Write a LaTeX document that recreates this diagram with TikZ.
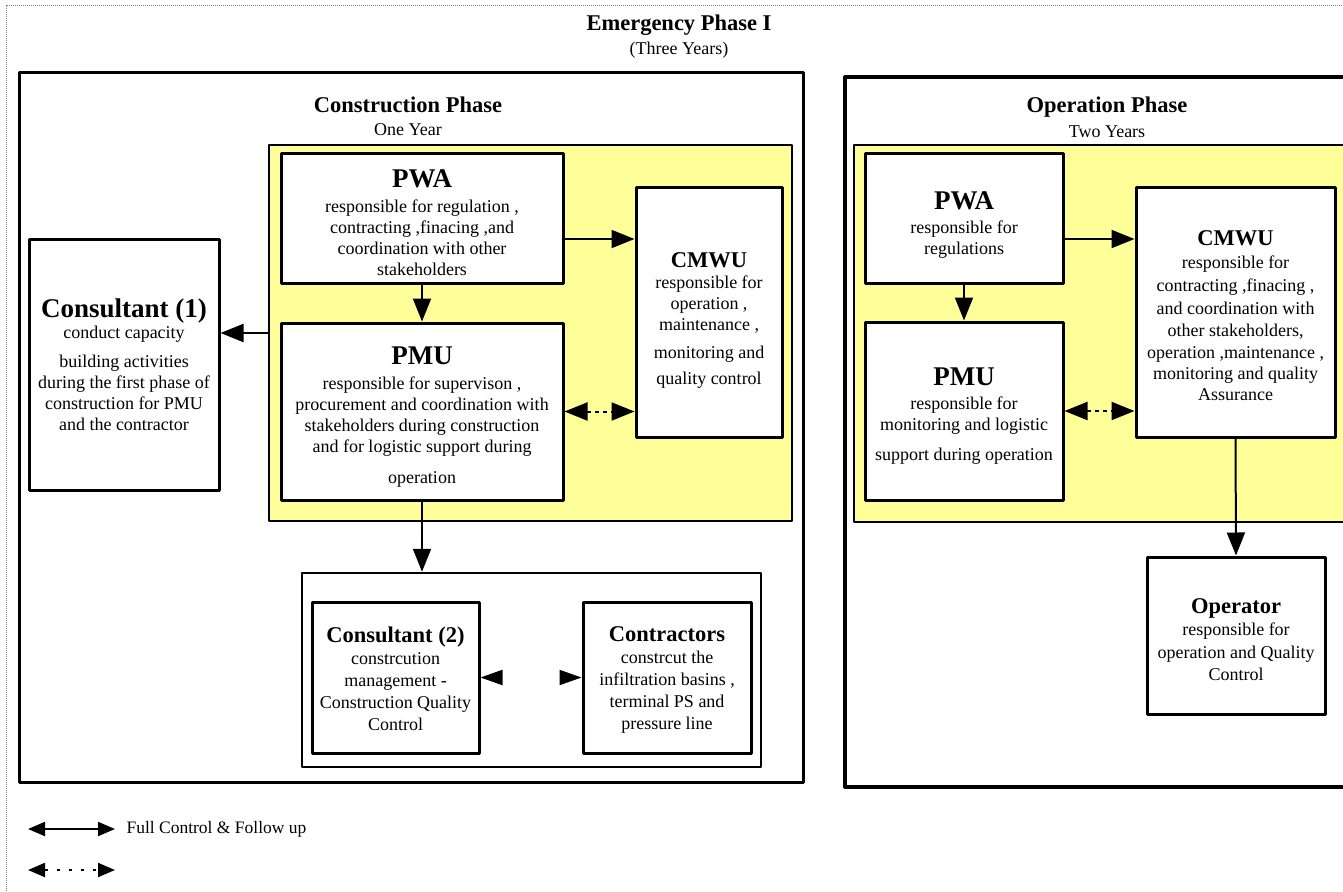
\documentclass[tikz,border=0pt]{standalone}
\usepackage{fontspec}
\setmainfont{Liberation Serif}
\usetikzlibrary{arrows.meta}
\definecolor{paleyellow}{RGB}{255,255,153}
\newcommand{\bigname}[2][0pt]{{\fontsize{27}{29}\selectfont\bfseries\rule{0pt}{#1}#2}}
\newcommand{\midname}[2][0pt]{{\fontsize{22.5}{25}\selectfont\bfseries\rule{0pt}{#1}#2}}
\begin{document}
\begin{tikzpicture}[x=1pt,y=-1pt,line join=round,
	>={Triangle[length=23pt,width=18pt]},
	body/.style={font=\fontsize{18}{21}\selectfont},
	box/.style={draw,line width=3pt,fill=white,inner sep=0pt,align=center,body},
	frame/.style={draw,line width=3pt,inner sep=0pt},
	yel/.style={draw,line width=2.5pt,fill=paleyellow,inner sep=0pt},
	con/.style={line width=2pt},
	ghost/.style={line width=2pt,white,{Triangle[length=22pt,width=15pt,color=black]}-{Triangle[length=22pt,width=15pt,color=black]}},
	small/.style={{Triangle[length=17pt,width=14pt]}-{Triangle[length=17pt,width=14pt]},line width=2pt}]
	\clip (0,0) rectangle (1343,891);
	%Outer border
	\path (6,891) coordinate (BL) (6,6) coordinate (TL) (1343,6) coordinate (TR);
	\draw[densely dotted,line width=1pt,gray] (BL)--(TL)--(TR);
	\node[font=\fontsize{22.5}{25}\selectfont\bfseries] (emg) at (679,25) {Emergency Phase I};
	\node[body] (emgy) at (679,50) {(Three Years)};
	%Construction phase
	\node[frame,minimum width=784,minimum height=710] (cPh) at (411,427) {};
	\node[font=\fontsize{22.5}{25}\selectfont\bfseries] (cTitle) at (408,105) {Construction Phase};
	\node[body] (cYear) at (408,130) {One Year};
	\node[yel,minimum width=523,minimum height=376] (cYel) at (530.5,333) {};
	\node[box,minimum width=282,minimum height=130] (cPWA) at (422,218)
		{\bigname[28pt]{PWA}\\[4pt] responsible for regulation ,\\ contracting ,finacing ,and\\ coordination with  other\\ stakeholders};
	\node[box,minimum width=282,minimum height=177] (cPMU) at (422,411.5)
		{\bigname[28pt]{PMU}\\[4pt] responsible for supervison ,\\ procurement and coordination with\\ stakeholders during construction\\ and for logistic support during\\[10pt] operation};
	\node[box,minimum width=146,minimum height=250] (cCMWU) at (709,312)
		{\midname[31pt]{CMWU}\\ responsible for\\ operation ,\\ maintenance ,\\[7pt] monitoring and\\[5pt] quality control};
	\node[box,minimum width=190,minimum height=251] (cons1) at (124,364.5)
		{\bigname{Consultant (1)}\\ conduct capacity\\[8pt] building activities\\ during the first phase of\\ construction for PMU\\ and the contractor};
	\node[draw,line width=2.5pt,inner sep=0pt,minimum width=459,minimum height=194] (grp) at (531.5,670) {};
	\node[box,font=\fontsize{18}{22}\selectfont,minimum width=167,minimum height=151] (cons2) at (395.5,677.5)
		{\midname[19pt]{Consultant (2)}\\ constrcution\\ management -\\ Construction Quality\\ Control};
	\node[box,font=\fontsize{18}{22}\selectfont,minimum width=168,minimum height=151] (ctr) at (667,677.5)
		{\midname[19pt]{Contractors}\\ constrcut the\\ infiltration basins ,\\ terminal PS and\\ pressure line};
	\path (cPWA.east)++(0,21) coordinate (cA);
	\draw[con,->] (cA)--(cA -| cCMWU.west);
	\draw[con,->] (cPWA.south)--(cPMU.north);
	\draw[con,<->,dash pattern=on 4pt off 4pt] (cPMU.east)--(cPMU.east -| cCMWU.west);
	\path (cons1.east)++(0,-31.5) coordinate (cB);
	\draw[con,->] (cB -| cYel.west)--(cB);
	\draw[con,->] (cPMU.south)--(cPMU.south |- grp.north);
	\draw[ghost] (cons2.east)--(ctr.west);
	%Operation phase
	\node[frame,line width=4pt,minimum width=515,minimum height=710] (oPh) at (1102.5,432) {};
	\node[font=\fontsize{22.5}{25}\selectfont\bfseries] (oTitle) at (1107,107) {Operation Phase};
	\node[body] (oYear) at (1107,132) {Two Years};
	\node[yel,minimum width=506,minimum height=377] (oYel) at (1107,333.5) {};
	\node[box,minimum width=198,minimum height=130] (oPWA) at (964,218)
		{\bigname[32pt]{PWA}\\[3pt] responsible for\\ regulations};
	\node[box,minimum width=198,minimum height=178] (oPMU) at (964,411)
		{\bigname[28pt]{PMU}\\[3pt] responsible for\\ monitoring and logistic\\[9pt] support during operation};
	\node[box,minimum width=199,minimum height=250] (oCMWU) at (1235.5,312)
		{\midname[23pt]{CMWU}\\[2pt] responsible for\\[2pt] contracting ,finacing ,\\[2pt] and coordination with\\[1pt] other stakeholders,\\[1pt] operation ,maintenance ,\\ monitoring and quality\\ Assurance};
	\node[box,font=\fontsize{18}{22.5}\selectfont,minimum width=178,minimum height=157] (oper) at (1236,635.5)
		{\midname[23pt]{Operator}\\ responsible for\\ operation and Quality\\ Control};
	\path (oPWA.east)++(0,21) coordinate (oA);
	\draw[con,->] (oA)--(oA -| oCMWU.west);
	\draw[con,->] (oPWA.south)--(oPMU.north);
	\draw[con,<->,dash pattern=on 4pt off 4pt] (oPMU.east)--(oPMU.east -| oCMWU.west);
	\draw[con,->] (oCMWU.south)--(oper.north);
	%Legend
	\path (28,829) coordinate (L1) (115,829) coordinate (L2)
		(28,870) coordinate (L3) (115,870) coordinate (L4);
	\draw[small] (L1)--(L2);
	\draw[small,dash pattern=on 3pt off 9pt] (L3)--(L4);
	\node[anchor=west,font=\fontsize{17.5}{20}\selectfont] (lgd) at (123,829) {Full Control \& Follow up};
\end{tikzpicture}
\end{document}
